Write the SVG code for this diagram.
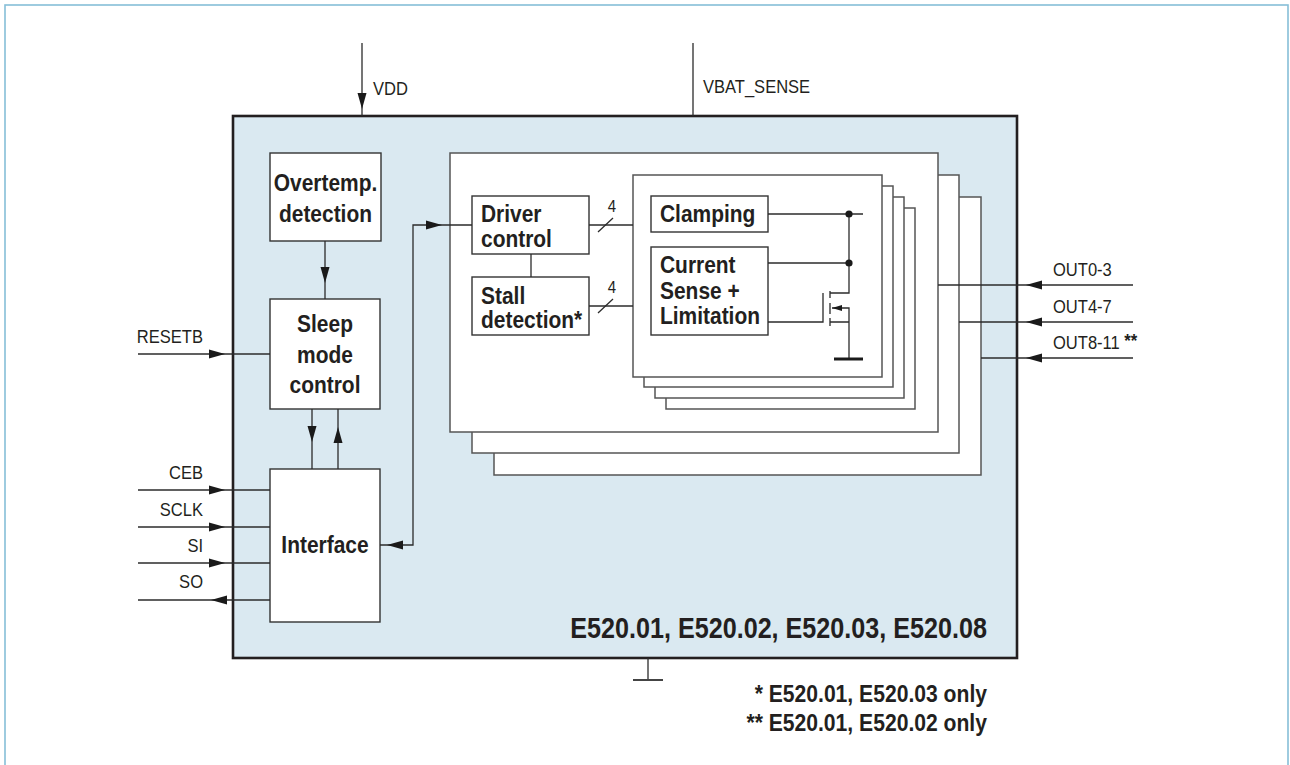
<svg xmlns="http://www.w3.org/2000/svg" xmlns:xlink="http://www.w3.org/1999/xlink" width="1290" height="765" viewBox="0 0 1290 765">
<style>
text{font-family:"Liberation Sans",Arial,Helvetica,sans-serif;fill:#231f20}
.b{font-weight:bold;font-size:23.8px}
.r{font-size:18.8px}
.s{font-size:17px}
.box{fill:#fff;stroke:#333;stroke-width:1.4}
.frm{fill:#fff;stroke:#555;stroke-width:1.5}
.ln{fill:none;stroke:#2b2b2b;stroke-width:1.3}
.ah{fill:#1a1a1a}
</style>
<defs>
<path id="ah" d="M0,0 L-16,-4.5 L-16,4.5 Z"/>
<path id="ahs" d="M0,0 L-10,-3 L-10,3 Z"/>
</defs>
<rect width="1290" height="765" fill="#fff"/>
<rect x="5" y="5" width="1283" height="790" fill="none" stroke="#86bfd8" stroke-width="1.6"/>

<g id="chip">
<rect x="233" y="116" width="784" height="542" fill="#dae9f1" stroke="#231f20" stroke-width="2.6"/>
<text x="987" y="638" text-anchor="end" font-weight="bold" font-size="28.6" transform="translate(987 0) scale(.88 1) translate(-987 0)">E520.01, E520.02, E520.03, E520.08</text>
</g>

<g id="output-stack">
<rect class="frm" x="494" y="197" width="487" height="278"/>
<rect class="frm" x="472" y="175" width="487" height="278"/>
<rect class="frm" x="450" y="153" width="488" height="279"/>
<rect class="frm" x="666" y="208" width="249" height="201"/>
<rect class="frm" x="655" y="197" width="249" height="201"/>
<rect class="frm" x="644" y="186" width="249" height="201"/>
<rect class="frm" x="633" y="175" width="249" height="202"/>
</g>

<g id="overtemp">
<rect class="box" x="270" y="153" width="111" height="88"/>
<g transform="translate(325.5 0) scale(.88 1) translate(-325.5 0)">
<text class="b" x="325.5" y="191" text-anchor="middle">Overtemp.</text>
<text class="b" x="325.5" y="222" text-anchor="middle">detection</text>
</g>
</g>

<g id="sleep">
<rect class="box" x="270" y="299" width="110" height="110"/>
<g transform="translate(325 0) scale(.88 1) translate(-325 0)">
<text class="b" x="325" y="332" text-anchor="middle">Sleep</text>
<text class="b" x="325" y="363" text-anchor="middle">mode</text>
<text class="b" x="325" y="393" text-anchor="middle">control</text>
</g>
</g>

<g id="interface">
<rect class="box" x="270" y="469" width="110" height="153"/>
<text class="b" x="325" y="553" text-anchor="middle" transform="translate(325 0) scale(.88 1) translate(-325 0)">Interface</text>
</g>

<g id="driver">
<rect class="box" x="472" y="196" width="117" height="58"/>
<g transform="translate(481 0) scale(.88 1) translate(-481 0)">
<text class="b" x="481" y="222">Driver</text>
<text class="b" x="481" y="247">control</text>
</g>
</g>

<g id="stall">
<rect class="box" x="472" y="277" width="117" height="58"/>
<g transform="translate(481 0) scale(.88 1) translate(-481 0)">
<text class="b" x="481" y="304">Stall</text>
<text class="b" x="481" y="328">detection*</text>
</g>
</g>

<g id="clamping">
<rect class="box" x="651" y="196" width="117" height="36"/>
<text class="b" x="660" y="222" transform="translate(660 0) scale(.88 1) translate(-660 0)">Clamping</text>
</g>

<g id="currentsense">
<rect class="box" x="651" y="247" width="117" height="88"/>
<g transform="translate(660 0) scale(.88 1) translate(-660 0)">
<text class="b" x="660" y="273">Current</text>
<text class="b" x="660" y="299">Sense +</text>
<text class="b" x="660" y="324">Limitation</text>
</g>
</g>

<g id="connectors">
<!-- supply -->
<path class="ln" d="M362,43 V116"/>
<use href="#ah" class="ah" transform="translate(362,109) rotate(90)"/>
<text class="r" x="373" y="95" transform="translate(373 0) scale(.88 1) translate(-373 0)">VDD</text>
<path class="ln" d="M693,43 V116"/>
<text class="r" x="703" y="93" transform="translate(703 0) scale(.88 1) translate(-703 0)">VBAT_SENSE</text>

<!-- overtemp to sleep -->
<path class="ln" d="M325,241 V299"/>
<use href="#ah" class="ah" transform="translate(325,283) rotate(90)"/>

<!-- sleep <-> interface -->
<path class="ln" d="M312,409 V469"/>
<use href="#ah" class="ah" transform="translate(312,442) rotate(90)"/>
<path class="ln" d="M338,409 V469"/>
<use href="#ah" class="ah" transform="translate(338,427) rotate(-90)"/>

<!-- left pins -->
<g transform="translate(203 0) scale(.88 1) translate(-203 0)">
<text class="r" x="203" y="343" text-anchor="end">RESETB</text>
<text class="r" x="203" y="479" text-anchor="end">CEB</text>
<text class="r" x="203" y="516" text-anchor="end">SCLK</text>
<text class="r" x="203" y="552" text-anchor="end">SI</text>
<text class="r" x="203" y="588" text-anchor="end">SO</text>
</g>
<path class="ln" d="M138,354 H270"/>
<use href="#ah" class="ah" transform="translate(225,354)"/>
<path class="ln" d="M138,490 H270"/>
<use href="#ah" class="ah" transform="translate(225,490)"/>
<path class="ln" d="M138,527 H270"/>
<use href="#ah" class="ah" transform="translate(225,527)"/>
<path class="ln" d="M138,563 H270"/>
<use href="#ah" class="ah" transform="translate(225,563)"/>
<path class="ln" d="M138,600 H270"/>
<use href="#ah" class="ah" transform="translate(211,600) rotate(180)"/>

<!-- interface <-> driver -->
<path class="ln" d="M380,545 H413 V225 H472"/>
<use href="#ah" class="ah" transform="translate(387,545) rotate(180)"/>
<use href="#ah" class="ah" transform="translate(442,225)"/>

<!-- driver/stall -->
<path class="ln" d="M531,254 V277"/>
<path class="ln" d="M589,225 H633"/>
<path class="ln" d="M598,232 L613,218"/>
<text class="s" x="612" y="212" text-anchor="middle" transform="translate(612 0) scale(.88 1) translate(-612 0)">4</text>
<path class="ln" d="M589,306 H633"/>
<path class="ln" d="M598,313 L613,299"/>
<text class="s" x="612" y="293" text-anchor="middle" transform="translate(612 0) scale(.88 1) translate(-612 0)">4</text>

<!-- power stage -->
<path class="ln" d="M768,214 H863"/>
<path class="ln" d="M768,263 H849"/>
<path class="ln" d="M849,214 V293 H830"/>
<circle cx="849" cy="214" r="3.6" fill="#1a1a1a"/>
<circle cx="849" cy="263" r="3.6" fill="#1a1a1a"/>
<path class="ln" d="M768,322 H823 V293"/>
<path class="ln" stroke-width="1.6" d="M830,291 V298 M830,303 V314 M830,318 V326"/>
<path class="ln" d="M832,308 H849 V359 M830,322 H849"/>
<use href="#ahs" class="ah" transform="translate(832,308) rotate(180)"/>
<path d="M834,359 H863" stroke="#1a1a1a" stroke-width="3"/>

<!-- outputs -->
<path class="ln" d="M938,285 H1133"/>
<use href="#ah" class="ah" transform="translate(1026,285) rotate(180)"/>
<path class="ln" d="M959,322 H1133"/>
<use href="#ah" class="ah" transform="translate(1026,322) rotate(180)"/>
<path class="ln" d="M981,358 H1133"/>
<use href="#ah" class="ah" transform="translate(1026,358) rotate(180)"/>
<g transform="translate(1053 0) scale(.88 1) translate(-1053 0)">
<text class="r" x="1053" y="276">OUT0-3</text>
<text class="r" x="1053" y="313">OUT4-7</text>
<text class="r" x="1053" y="349">OUT8-11 <tspan font-weight="bold" font-size="19" dy="-2">**</tspan></text>
</g>

<!-- chip ground -->
<path class="ln" d="M648,658 V680"/>
<path d="M633,680 H663" stroke="#444" stroke-width="2"/>
</g>

<g id="footnotes" transform="translate(987 0) scale(.88 1) translate(-987 0)">
<text x="987" y="702" text-anchor="end" font-weight="bold" font-size="24">* E520.01, E520.03 only</text>
<text x="987" y="731" text-anchor="end" font-weight="bold" font-size="24">** E520.01, E520.02 only</text>
</g>
</svg>
